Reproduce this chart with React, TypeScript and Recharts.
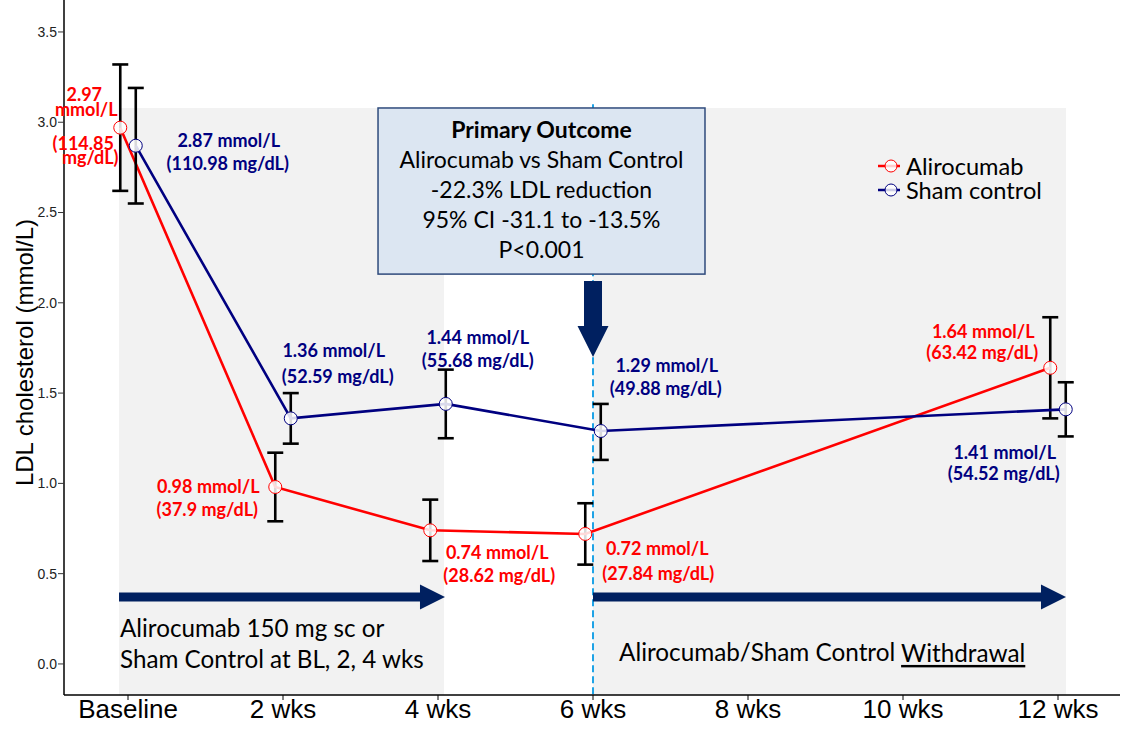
import React from 'react';
import {
  ComposedChart,
  Line,
  XAxis,
  YAxis,
  ErrorBar,
  ReferenceArea,
  ReferenceDot,
  Legend,
} from 'recharts';

// ---------- data ----------
const WEEKS = [0, 2, 4, 6, 12];
const X_TICKS = [0, 2, 4, 6, 8, 10, 12];
const X_TICK_LABELS = ['Baseline', '2 wks', '4 wks', '6 wks', '8 wks', '10 wks', '12 wks'];
const Y_TICKS = [0, 0.5, 1, 1.5, 2, 2.5, 3, 3.5];

const ALIRO_MEAN = [2.97, 0.98, 0.74, 0.72, 1.64];
const ALIRO_LOW = [2.62, 0.79, 0.57, 0.55, 1.36];
const ALIRO_HIGH = [3.32, 1.17, 0.91, 0.89, 1.92];
const ALIRO_MGDL = [114.85, 37.9, 28.62, 27.84, 63.42];

const SHAM_MEAN = [2.87, 1.36, 1.44, 1.29, 1.41];
const SHAM_LOW = [2.55, 1.22, 1.25, 1.13, 1.26];
const SHAM_HIGH = [3.19, 1.5, 1.63, 1.44, 1.56];
const SHAM_MGDL = [110.98, 52.59, 55.68, 49.88, 54.52];

const BOX_LINES = [
  'Primary Outcome',
  'Alirocumab vs Sham Control',
  '-22.3% LDL reduction',
  '95% CI -31.1 to -13.5%',
  'P<0.001',
];
const TREATMENT_TEXT = ['Alirocumab 150 mg sc or', 'Sham Control at BL, 2, 4 wks'];
const WITHDRAWAL_TEXT = 'Alirocumab/Sham Control ';
const WITHDRAWAL_UNDERLINED = 'Withdrawal';

// ---------- layout ----------
const X_MIN = -0.826;
const X_MAX = 12.8;
const Y_MIN = -0.172;
const Y_MAX = 3.677;
const DODGE = 0.1;

const RED = '#ff0000';
const NAVY = '#000080';
const ARROW = '#002060';
const SHADE = '#f2f2f2';
const DASH = '#1fa3e6';
const LATO = 'Lato, "Noto Sans", sans-serif';
const ARIAL = '"Liberation Sans", Arial, sans-serif';

const SHADED = [
  { x1: -0.116, x2: 4.077, y2: 3.079 },
  { x1: 6.0, x2: 12.103, y2: 3.079 },
];
const BOX = { x1: 3.226, x2: 7.445, y1: 2.159, y2: 3.079 };
const DOWN_ARROW = { x1: 5.8, x2: 6.2, y1: 1.7, y2: 2.121 };
const LEFT_ARROW = { x1: -0.116, x2: 4.09, y1: 0.302, y2: 0.44 };
const RIGHT_ARROW = { x1: 6.0, x2: 12.103, y1: 0.302, y2: 0.44 };

// label offsets in px relative to each marker: [dx, dy] per text line
const ALIRO_LABEL_OFFSETS = [
  [[-36, -34], [-34, -19], [-37, 15], [-30, 29]],
  [[-67, -1], [-68, 22]],
  [[67, 22], [69, 45]],
  [[72, 14], [73, 39]],
  [[-67, -37], [-68, -16]],
];
const SHAM_LABEL_OFFSETS = [
  [[93, -6], [92, 17]],
  [[43, -68], [47, -42]],
  [[32, -67], [32, -44]],
  [[66, -66], [65, -43]],
  [[-61, 43], [-62, 64]],
];

const aliroData = WEEKS.map((w, i) => ({
  x: w - DODGE,
  y: ALIRO_MEAN[i],
  err: [ALIRO_MEAN[i] - ALIRO_LOW[i], ALIRO_HIGH[i] - ALIRO_MEAN[i]],
}));
const shamData = WEEKS.map((w, i) => ({
  x: w + DODGE,
  y: SHAM_MEAN[i],
  err: [SHAM_MEAN[i] - SHAM_LOW[i], SHAM_HIGH[i] - SHAM_MEAN[i]],
}));

function labelLines(v: number, mg: number, n: number): string[] {
  if (n === 4) return [v.toFixed(2), 'mmol/L', `(${mg}`, 'mg/dL)'];
  return [`${v.toFixed(2)} mmol/L`, `(${mg} mg/dL)`];
}

const makeValueLabel = (lines: string[], offsets: number[][], color: string) => (p: any) => (
  <g>
    {lines.map((t, k) => (
      <text
        key={k}
        x={p.cx + offsets[k][0]}
        y={p.cy + offsets[k][1]}
        textAnchor="middle"
        dominantBaseline="central"
        fill={color}
        fontFamily={LATO}
        fontWeight={700}
        fontSize={18}
      >
        {t}
      </text>
    ))}
  </g>
);

const BoxShape = (p: any) => {
  const cx = p.x + p.width / 2;
  return (
    <g>
      <rect x={p.x} y={p.y} width={p.width} height={p.height} fill="#dce6f2" stroke="#2f4b7c" strokeWidth={1.5} />
      {BOX_LINES.map((t, i) => (
        <text
          key={i}
          x={cx}
          y={p.y + 21.5 + i * 30}
          textAnchor="middle"
          dominantBaseline="central"
          fontFamily={LATO}
          fontWeight={i === 0 ? 700 : 400}
          fontSize={23}
          fill="#000"
        >
          {t}
        </text>
      ))}
    </g>
  );
};

const DownArrowShape = (p: any) => {
  const cx = p.x + p.width / 2;
  const hw = 9;
  const head = 31;
  const yb = p.y + p.height - head;
  const pts = [
    [cx - hw, p.y],
    [cx + hw, p.y],
    [cx + hw, yb],
    [p.x + p.width, yb],
    [cx, p.y + p.height],
    [p.x, yb],
    [cx - hw, yb],
  ];
  return <polygon points={pts.map((q) => q.join(',')).join(' ')} fill={ARROW} />;
};

const hArrowPoints = (p: any) => {
  const cy = p.y + p.height / 2;
  const ht = 4.5;
  const head = 25;
  const xb = p.x + p.width - head;
  return [
    [p.x, cy - ht],
    [xb, cy - ht],
    [xb, p.y],
    [p.x + p.width, cy],
    [xb, p.y + p.height],
    [xb, cy + ht],
    [p.x, cy + ht],
  ]
    .map((q) => q.join(','))
    .join(' ');
};

const LeftArrowShape = (p: any) => {
  const cy = p.y + p.height / 2;
  return (
    <g>
      <polygon points={hArrowPoints(p)} fill={ARROW} />
      {TREATMENT_TEXT.map((t, i) => (
        <text
          key={i}
          x={p.x + 1}
          y={cy + 31 + i * 31}
          dominantBaseline="central"
          fontFamily={LATO}
          fontSize={24.2}
          fill="#000"
        >
          {t}
        </text>
      ))}
    </g>
  );
};

const RightArrowShape = (p: any) => {
  const cy = p.y + p.height / 2;
  return (
    <g>
      <polygon points={hArrowPoints(p)} fill={ARROW} />
      <text x={p.x + 26} y={cy + 55} dominantBaseline="central" fontFamily={LATO} fontSize={24.3} fill="#000">
        {WITHDRAWAL_TEXT}
        <tspan textDecoration="underline" style={{ textDecoration: 'underline' }}>
          {WITHDRAWAL_UNDERLINED}
        </tspan>
      </text>
    </g>
  );
};

const DashedShape = (p: any) => {
  const x = p.x + p.width / 2;
  return <line x1={x} y1={p.y} x2={x} y2={p.y + p.height} stroke={DASH} strokeWidth={2} strokeDasharray="7 4" />;
};

const LegendContent = () => {
  const items = [
    { name: 'Alirocumab', color: RED },
    { name: 'Sham control', color: NAVY },
  ];
  return (
    <div>
      {items.map((it) => (
        <div key={it.name} style={{ display: 'flex', alignItems: 'center', height: 24, overflow: 'visible' }}>
          <svg width={30} height={20}>
            <line x1={6} y1={10} x2={28} y2={10} stroke={it.color} strokeWidth={2.5} />
            <circle cx={19} cy={10} r={6} fill="#fff" fillOpacity={0.8} stroke={it.color} strokeWidth={1} />
          </svg>
          <span style={{ fontFamily: LATO, fontSize: 23.6, color: '#000', marginLeft: 4, lineHeight: '22px' }}>
            {it.name}
          </span>
        </div>
      ))}
    </div>
  );
};

const YLabel = (props: any) => {
  const vb = props.viewBox || { x: 0, y: 0, width: 64, height: 695 };
  const x = vb.x + 33;
  const y = vb.y + vb.height / 2 + 5;
  return (
    <text
      x={x}
      y={y}
      transform={`rotate(-90, ${x}, ${y})`}
      textAnchor="middle"
      fontFamily={ARIAL}
      fontSize={24}
      fill="#000"
    >
      LDL cholesterol (mmol/L)
    </text>
  );
};

export default function App() {
  return (
    <div style={{ position: 'absolute', left: 0, top: 0, width: 1122, height: 742, background: '#fff' }}>
      <ComposedChart width={1122} height={742} margin={{ top: 0, right: 2, bottom: 0, left: 0 }}>
        <XAxis
          dataKey="x"
          type="number"
          domain={[X_MIN, X_MAX]}
          allowDataOverflow
          ticks={X_TICKS}
          tickFormatter={(v: number) => X_TICK_LABELS[X_TICKS.indexOf(v)] ?? ''}
          height={47}
          tickSize={5}
          tickMargin={0}
          axisLine={{ stroke: '#000', strokeWidth: 1.5 }}
          tickLine={{ stroke: '#000' }}
          tick={{ fill: '#000', fontSize: 26, fontFamily: ARIAL }}
        />
        <YAxis
          type="number"
          domain={[Y_MIN, Y_MAX]}
          allowDataOverflow
          ticks={Y_TICKS}
          tickFormatter={(v: number) => v.toFixed(1)}
          width={64}
          tickSize={6}
          tickMargin={1}
          axisLine={{ stroke: '#000', strokeWidth: 1.5 }}
          tickLine={{ stroke: '#333' }}
          tick={{ fill: '#222', fontSize: 14, fontFamily: ARIAL }}
          label={<YLabel />}
        />
        {SHADED.map((s, i) => (
          <ReferenceArea key={'sh' + i} x1={s.x1} x2={s.x2} y1={Y_MIN} y2={s.y2} fill={SHADE} fillOpacity={1} stroke="none" />
        ))}
        <ReferenceArea x1={5.99} x2={6.01} y1={Y_MIN} y2={3.1} shape={DashedShape} />
        <ReferenceArea x1={BOX.x1} x2={BOX.x2} y1={BOX.y1} y2={BOX.y2} shape={BoxShape} />
        <ReferenceArea x1={DOWN_ARROW.x1} x2={DOWN_ARROW.x2} y1={DOWN_ARROW.y1} y2={DOWN_ARROW.y2} shape={DownArrowShape} />
        <ReferenceArea x1={LEFT_ARROW.x1} x2={LEFT_ARROW.x2} y1={LEFT_ARROW.y1} y2={LEFT_ARROW.y2} shape={LeftArrowShape} />
        <ReferenceArea x1={RIGHT_ARROW.x1} x2={RIGHT_ARROW.x2} y1={RIGHT_ARROW.y1} y2={RIGHT_ARROW.y2} shape={RightArrowShape} />

        <Line
          data={aliroData}
          dataKey="y"
          name="Alirocumab"
          stroke={RED}
          strokeWidth={2.6}
          dot={{ r: 6.5, stroke: RED, strokeWidth: 1, fill: '#fff', fillOpacity: 0.85 }}
          activeDot={false}
          isAnimationActive={false}
        >
          <ErrorBar dataKey="err" direction="y" width={8} stroke="#000" strokeWidth={2.6} isAnimationActive={false} />
        </Line>
        <Line
          data={shamData}
          dataKey="y"
          name="Sham control"
          stroke={NAVY}
          strokeWidth={2.6}
          dot={{ r: 6.5, stroke: NAVY, strokeWidth: 1, fill: '#fff', fillOpacity: 0.85 }}
          activeDot={false}
          isAnimationActive={false}
        >
          <ErrorBar dataKey="err" direction="y" width={8} stroke="#000" strokeWidth={2.6} isAnimationActive={false} />
        </Line>

        {aliroData.map((d, i) => (
          <ReferenceDot
            key={'al' + i}
            x={d.x}
            y={d.y}
            r={0}
            ifOverflow="visible"
            shape={makeValueLabel(labelLines(ALIRO_MEAN[i], ALIRO_MGDL[i], ALIRO_LABEL_OFFSETS[i].length), ALIRO_LABEL_OFFSETS[i], RED)}
          />
        ))}
        {shamData.map((d, i) => (
          <ReferenceDot
            key={'sl' + i}
            x={d.x}
            y={d.y}
            r={0}
            ifOverflow="visible"
            shape={makeValueLabel(labelLines(SHAM_MEAN[i], SHAM_MGDL[i], SHAM_LABEL_OFFSETS[i].length), SHAM_LABEL_OFFSETS[i], NAVY)}
          />
        ))}
        <Legend
          layout="vertical"
          align="center"
          verticalAlign="middle"
          content={() => <LegendContent />}
          wrapperStyle={{ left: 872, top: 154, width: 'auto', height: 'auto' }}
        />
      </ComposedChart>
    </div>
  );
}
